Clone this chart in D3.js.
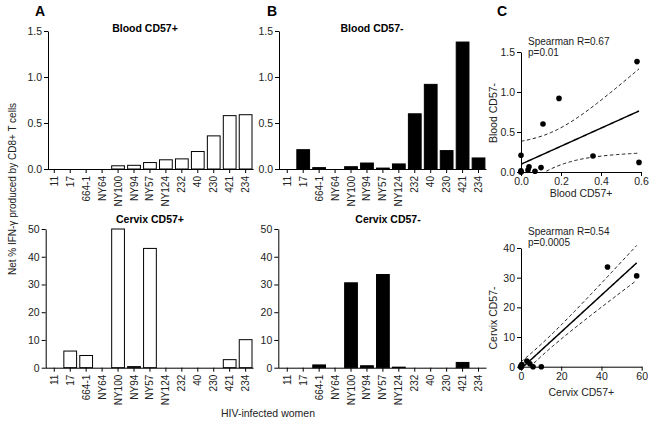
<!DOCTYPE html>
<html><head><meta charset="utf-8">
<script src="https://cdn.jsdelivr.net/npm/d3@7"></script>
<style>body{margin:0;background:#fff} text{font-family:"Liberation Sans",Arial,Helvetica,sans-serif}</style>
</head><body><svg id="c" width="649" height="421"></svg>
<script>
const women = ["11","17","664-1","NY64","NY100","NY94","NY57","NY124","232","40","230","421","234"];
const bloodPos  = [0,0,0,0,0.035,0.04,0.07,0.1,0.11,0.19,0.36,0.58,0.59];
const bloodNeg  = [0,0.21,0.015,0,0.025,0.065,0.01,0.055,0.6,0.92,0.2,1.38,0.12];
const cervixPos = [0,6,4.4,0,57.5,0.4,43,0,0,0,0,2.9,10.1];
const cervixNeg = [0,0,1.0,0,30.6,0.7,33.6,0.2,0,0,0,1.9,0];
const bloodTicks = [0,0.5,1.0,1.5];
const cervixTicks = [0,10,20,30,40,50];
const scBloodX = [0,0.2,0.4,0.6];
const scBloodY = [0,0.5,1.0,1.5];
const scCervixX = [0,20,40,60];
const scCervixY = [0,10,20,30,40];
const spearman = [["Spearman R=0.67","p=0.01"],["Spearman R=0.54","p=0.0005"]];

const svg = d3.select("#c");
const tickCol = "#222";

function styleAxis(g){
  g.selectAll("line").attr("stroke","#000");
  g.selectAll("path").attr("stroke","#000");
  g.selectAll("text").attr("fill",tickCol).style("font-size","10.5px");
}

function barPanel(o){
  const x = d3.scaleBand().domain(women).range(o.xr).paddingInner(0.2).paddingOuter(0.1);
  const y = d3.scaleLinear().domain(o.dom).range(o.yr).clamp(true);
  const g = svg.append("g");
  g.selectAll("rect").data(o.vals).join("rect")
    .attr("x",(d,i)=>x(women[i]))
    .attr("width",x.bandwidth())
    .attr("y",d=>y(d))
    .attr("height",d=>y(0)-y(d))
    .attr("fill",o.fill).attr("stroke","#000").attr("stroke-width",1)
    .attr("display",d=>d>0?null:"none");
  const ya = g.append("g").attr("transform",`translate(${o.ax},0)`)
    .call(d3.axisLeft(y).tickValues(o.ticks).tickFormat(o.fmt).tickSize(4).tickSizeOuter(0).tickPadding(2));
  styleAxis(ya);
  const xa = g.append("g").attr("transform",`translate(0,${o.yr[0]})`)
    .call(d3.axisBottom(x).tickSize(4).tickSizeOuter(0));
  xa.select(".domain").remove();
  styleAxis(xa);
  xa.selectAll("text").attr("x",-7).attr("y",0).attr("dy","0.35em")
    .attr("transform","rotate(-90)").style("text-anchor","end").style("font-size","10px");
  g.append("line").attr("x1",o.ax).attr("x2",o.xr[1]).attr("y1",o.yr[0]+0.5).attr("y2",o.yr[0]+0.5).attr("stroke","#000");
  g.append("text").attr("x",o.tx).attr("y",o.ty).attr("text-anchor","middle")
    .style("font-weight","bold").style("font-size","10.5px").text(o.title);
}

barPanel({xr:[46.3,253.6],ax:48,yr:[169,31],dom:[0,1.5],ticks:bloodTicks,fmt:d3.format(".1f"),vals:bloodPos,fill:"#fff",title:"Blood CD57+",tx:145,ty:32});
barPanel({xr:[279.3,486.5],ax:279,yr:[169,31],dom:[0,1.5],ticks:bloodTicks,fmt:d3.format(".1f"),vals:bloodNeg,fill:"#000",title:"Blood CD57-",tx:372,ty:32});
barPanel({xr:[46.3,253.6],ax:45.7,yr:[367.7,229],dom:[0,50],ticks:cervixTicks,fmt:d3.format("d"),vals:cervixPos,fill:"#fff",title:"Cervix CD57+",tx:150,ty:223});
barPanel({xr:[279.3,486.5],ax:278.3,yr:[367.7,229],dom:[0,50],ticks:cervixTicks,fmt:d3.format("d"),vals:cervixNeg,fill:"#000",title:"Cervix CD57-",tx:388,ty:223});

// scatter panels
function regress(xs,ys){
  const n=xs.length, mx=d3.mean(xs), my=d3.mean(ys);
  let sxx=0,sxy=0,syy=0;
  xs.forEach((v,i)=>{sxx+=(v-mx)**2;sxy+=(v-mx)*(ys[i]-my);syy+=(ys[i]-my)**2;});
  const b=sxy/sxx, a=my-b*mx;
  const s=Math.sqrt((syy-b*sxy)/(n-2));
  const t=2.201; // t(0.975, df=11)
  return {a,b,f:x=>a+b*x,hw:x=>t*s*Math.sqrt(1/n+(x-mx)**2/sxx)};
}

function scatterPanel(o,idx){
  const x = d3.scaleLinear().domain(o.xd).range(o.xr);
  const y = d3.scaleLinear().domain(o.yd).range(o.yr);
  const g = svg.append("g");
  const cid="clip"+idx;
  g.append("clipPath").attr("id",cid).append("rect")
    .attr("x",o.xr[0]).attr("y",o.yr[1]-8).attr("width",o.xr[1]-o.xr[0]+4).attr("height",o.yr[0]-o.yr[1]+8);
  const r = regress(o.xs,o.ys);
  const x0=d3.min(o.xs), x1=d3.max(o.xs);
  const grid=d3.range(0,101).map(i=>x0+(x1-x0)*i/100);
  const lg=g.append("g").attr("clip-path",`url(#${cid})`);
  const line=d3.line().x(d=>x(d[0])).y(d=>y(d[1]));
  lg.append("path").attr("d",line(grid.map(v=>[v,r.f(v)]))).attr("fill","none").attr("stroke","#000").attr("stroke-width",1.5);
  lg.append("path").attr("d",line(grid.map(v=>[v,r.f(v)+r.hw(v)]))).attr("fill","none").attr("stroke","#000").attr("stroke-width",0.9).attr("stroke-dasharray","3.5,2.5");
  lg.append("path").attr("d",line(grid.map(v=>[v,r.f(v)-r.hw(v)]))).attr("fill","none").attr("stroke","#000").attr("stroke-width",0.9).attr("stroke-dasharray","3.5,2.5");
  const ya=g.append("g").attr("transform",`translate(${o.xr[0]},0)`)
    .call(d3.axisLeft(y).tickValues(o.yt).tickFormat(o.yf).tickSize(4).tickSizeOuter(0).tickPadding(2));
  styleAxis(ya);
  const xa=g.append("g").attr("transform",`translate(0,${o.yr[0]})`)
    .call(d3.axisBottom(x).tickValues(o.xt).tickFormat(o.xf).tickSize(4).tickSizeOuter(0).tickPadding(2));
  styleAxis(xa);
  g.selectAll("circle").data(o.xs).join("circle")
    .attr("cx",d=>x(d)).attr("cy",(d,i)=>y(o.ys[i])).attr("r",2.8).attr("fill","#000");
  g.append("text").attr("x",(o.xr[0]+o.xr[1])/2).attr("y",o.xty).attr("text-anchor","middle")
    .attr("fill",tickCol).style("font-size","10.5px").text(o.xl);
  g.append("text").attr("transform",`translate(497,${o.yty}) rotate(-90)`).attr("text-anchor","middle")
    .attr("fill",tickCol).style("font-size","10.5px").text(o.yl);
  g.append("text").attr("x",528).attr("y",o.sy).attr("fill",tickCol).style("font-size","10px").text(spearman[idx][0]);
  g.append("text").attr("x",528).attr("y",o.sy+11).attr("fill",tickCol).style("font-size","10px").text(spearman[idx][1]);
}

scatterPanel({xs:bloodPos,ys:bloodNeg,xd:[0,0.6],yd:[0,1.5],xr:[521,641],yr:[172,52],xt:scBloodX,yt:scBloodY,xf:d3.format(".1f"),yf:d3.format(".1f"),xl:"Blood CD57+",yl:"Blood CD57-",xty:197,yty:113,sy:45},0);
scatterPanel({xs:cervixPos,ys:cervixNeg,xd:[0,60],yd:[0,40],xr:[521,641.7],yr:[366.7,248],xt:scCervixX,yt:scCervixY,xf:d3.format("d"),yf:d3.format("d"),xl:"Cervix CD57+",yl:"Cervix CD57-",xty:396,yty:318,sy:235},1);

// panel letters
[["A",35,16],["B",267,16],["C",497,16]].forEach(([t,x,y])=>{
  svg.append("text").attr("x",x).attr("y",y).style("font-weight","bold").style("font-size","14px").text(t);
});
// shared labels
svg.append("text").attr("transform","translate(16,189) rotate(-90)").attr("text-anchor","middle")
  .attr("fill",tickCol).style("font-size","10px").text("Net % IFN-γ produced by CD8+ T cells");
svg.append("text").attr("x",268).attr("y",417).attr("text-anchor","middle")
  .attr("fill",tickCol).style("font-size","10.5px").text("HIV-infected women");
</script></body></html>
